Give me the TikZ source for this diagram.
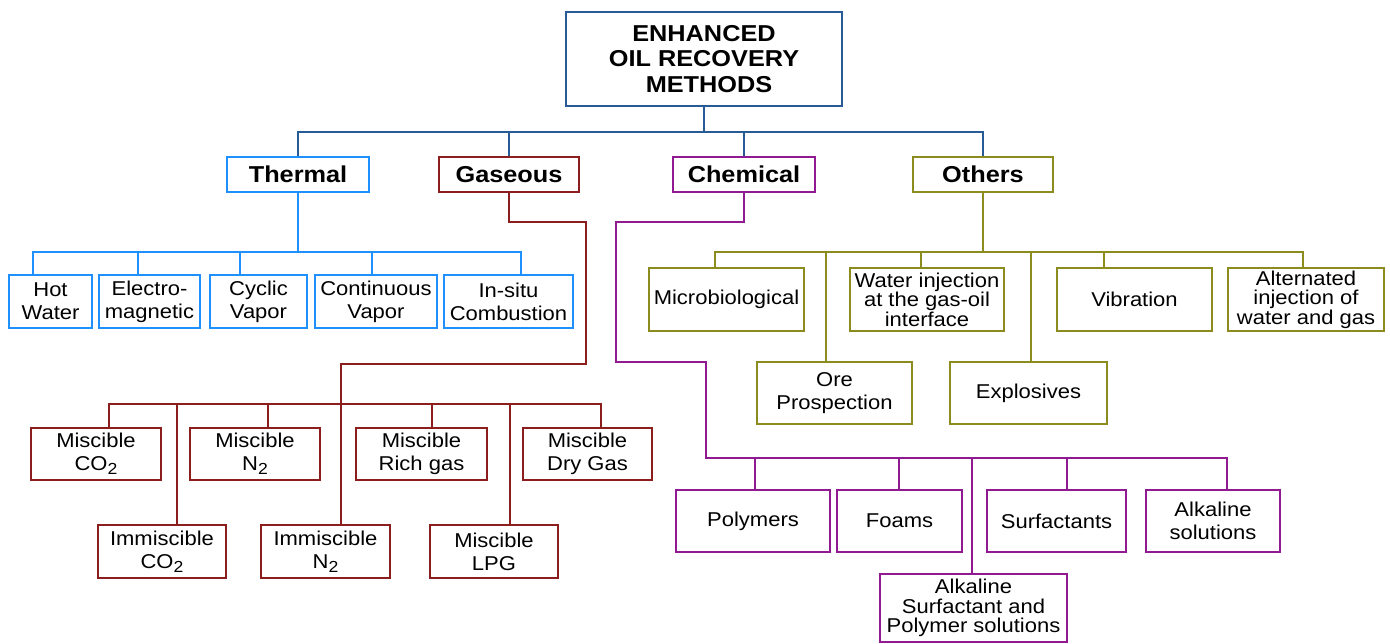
\documentclass[tikz,border=0pt]{standalone}
\usepackage{fontspec}
\setmainfont{Liberation Sans}[FakeStretch=1.1]
\definecolor{topblue}{RGB}{40,90,150}
\definecolor{thermblue}{RGB}{30,144,255}
\definecolor{gasred}{RGB}{140,30,30}
\definecolor{chempurple}{RGB}{145,25,145}
\definecolor{othersolive}{RGB}{140,140,30}
\newcommand{\subtwo}{\raisebox{-4pt}{\fontsize{16}{16}\selectfont 2}}
\begin{document}
\begin{tikzpicture}[x=1pt,y=-1pt,
  box/.style={draw, line width=1.7pt, fill=white, align=center, inner sep=0pt,
    font=\fontsize{20}{23}\selectfont},
  tight/.style={font=\fontsize{20}{19.5}\selectfont},
  cat/.style={box, font=\bfseries\fontsize{23}{26}\selectfont},
  mainbox/.style={box, draw=topblue, font=\bfseries\fontsize{23}{25.5}\selectfont},
  thb/.style={box, draw=thermblue},
  gab/.style={box, draw=gasred},
  chb/.style={box, draw=chempurple},
  otb/.style={box, draw=othersolive},
  link/.style={line width=1.6pt},
  toplink/.style={link, draw=topblue},
  thlink/.style={link, draw=thermblue},
  galink/.style={link, draw=gasred},
  chlink/.style={link, draw=chempurple},
  otlink/.style={link, draw=othersolive}]
\useasboundingbox (0,0) rectangle (1390,644);
\fill[white] (0,0) rectangle (1390,644);

% main and categories
\node[mainbox, minimum width=276pt, minimum height=94pt] (main) at (704,59) {ENHANCED\\OIL RECOVERY\\\hspace*{10pt}METHODS};
\node[cat, draw=thermblue, minimum width=142pt, minimum height=35pt] (thermal) at (298,174.5) {Thermal};
\node[cat, draw=gasred, minimum width=140pt, minimum height=35pt] (gaseous) at (509,174.5) {Gaseous};
\node[cat, draw=chempurple, minimum width=142pt, minimum height=35pt] (chemical) at (744,174.5) {Chemical};
\node[cat, draw=othersolive, minimum width=140pt, minimum height=35pt] (others) at (983,174.5) {Others};

% thermal children
\node[thb, minimum width=83pt, minimum height=53pt] (hw) at (50.5,301.5) {Hot\\Water};
\node[thb, minimum width=101pt, minimum height=53pt] (em) at (149.5,301.5) {Electro-\\magnetic};
\node[thb, minimum width=97pt, minimum height=53pt] (cv) at (258.5,301.5) {Cyclic\\Vapor};
\node[thb, minimum width=122pt, minimum height=53pt] (conv) at (376,301.5) {Continuous\\Vapor};
\node[thb, minimum width=129pt, minimum height=53pt] (ins) at (508.5,301.5) {In-situ\\Combustion};

% gaseous children
\node[gab, minimum width=130pt, minimum height=52pt] (mco2) at (96,454) {Miscible\\CO\subtwo};
\node[gab, minimum width=130pt, minimum height=52pt] (mn2) at (255,454) {Miscible\\N\subtwo};
\node[gab, minimum width=131pt, minimum height=52pt] (mrich) at (421.5,454) {Miscible\\Rich gas};
\node[gab, minimum width=129pt, minimum height=52pt] (mdry) at (587.5,454) {Miscible\\Dry Gas};
\node[gab, minimum width=128pt, minimum height=53pt] (ico2) at (162,551.5) {Immiscible\\CO\subtwo};
\node[gab, minimum width=129pt, minimum height=53pt] (in2) at (325.5,551.5) {Immiscible\\N\subtwo};
\node[gab, minimum width=128pt, minimum height=53pt] (mlpg) at (494,551.5) {Miscible\\LPG};

% chemical children
\node[chb, minimum width=154pt, minimum height=62pt] (poly) at (753,521) {Polymers};
\node[chb, minimum width=125pt, minimum height=62pt] (foam) at (899.5,521) {Foams};
\node[chb, minimum width=139pt, minimum height=62pt] (surf) at (1056.5,521) {Surfactants};
\node[chb, minimum width=134pt, minimum height=62pt] (alk) at (1213,521) {Alkaline\\solutions};
\node[chb, tight, minimum width=187pt, minimum height=68pt] (asp) at (973.5,608) {Alkaline\\Surfactant and\\Polymer solutions};

% others children
\node[otb, minimum width=155pt, minimum height=63pt] (micro) at (726.5,299.5) {Microbiological};
\node[otb, tight, minimum width=154pt, minimum height=63pt] (wi) at (927,299.5) {Water injection\\at the gas-oil\\interface};
\node[otb, minimum width=155pt, minimum height=63pt] (vib) at (1134.5,299.5) {Vibration};
\node[otb, tight, minimum width=156pt, minimum height=63pt] (alt) at (1306,299.5) {Alternated\\injection of\\water and gas};
\node[otb, minimum width=155pt, minimum height=62pt] (ore) at (834.5,393) {Ore\\Prospection};
\node[otb, minimum width=157pt, minimum height=62pt] (expl) at (1028.5,393) {Explosives};

% top connectors
\draw[toplink] (main.south) -- (main.south |- 0,132);
\draw[toplink] (thermal.north) -- (thermal.north |- 0,132) -- (others.north |- 0,132) -- (others.north);
\draw[toplink] (gaseous.north) -- (gaseous.north |- 0,132);
\draw[toplink] (chemical.north) -- (chemical.north |- 0,132);

% thermal connectors
\draw[thlink] (thermal.south) -- (thermal.south |- 0,252);
\draw[thlink] (hw.north -| 33,0) -- (33,252) -- (521,252) -- (ins.north -| 521,0);
\draw[thlink] (em.north -| 138,0) -- (138,252);
\draw[thlink] (cv.north -| 240,0) -- (240,252);
\draw[thlink] (conv.north -| 372,0) -- (372,252);

% gaseous connectors
\draw[galink] (gaseous.south) -- (509,222) -- (586,222) -- (586,364) -- (341,364) -- (in2.north -| 341,0);
\draw[galink] (mco2.north -| 109,0) -- (109,404) -- (601,404) -- (mdry.north -| 601,0);
\draw[galink] (ico2.north -| 177,0) -- (177,404);
\draw[galink] (mn2.north -| 268,0) -- (268,404);
\draw[galink] (mrich.north -| 432,0) -- (432,404);
\draw[galink] (mlpg.north -| 510,0) -- (510,404);

% chemical connectors
\draw[chlink] (chemical.south) -- (744,222) -- (616,222) -- (616,362) -- (706,362) -- (706,458) -- (1227,458) -- (alk.north -| 1227,0);
\draw[chlink] (poly.north -| 755,0) -- (755,458);
\draw[chlink] (foam.north -| 899,0) -- (899,458);
\draw[chlink] (asp.north -| 972,0) -- (972,458);
\draw[chlink] (surf.north -| 1067,0) -- (1067,458);

% others connectors
\draw[otlink] (others.south) -- (others.south |- 0,252);
\draw[otlink] (micro.north -| 715,0) -- (715,252) -- (1303,252) -- (alt.north -| 1303,0);
\draw[otlink] (ore.north -| 826,0) -- (826,252);
\draw[otlink] (wi.north -| 921,0) -- (921,252);
\draw[otlink] (expl.north -| 1031,0) -- (1031,252);
\draw[otlink] (vib.north -| 1104,0) -- (1104,252);
\end{tikzpicture}
\end{document}
